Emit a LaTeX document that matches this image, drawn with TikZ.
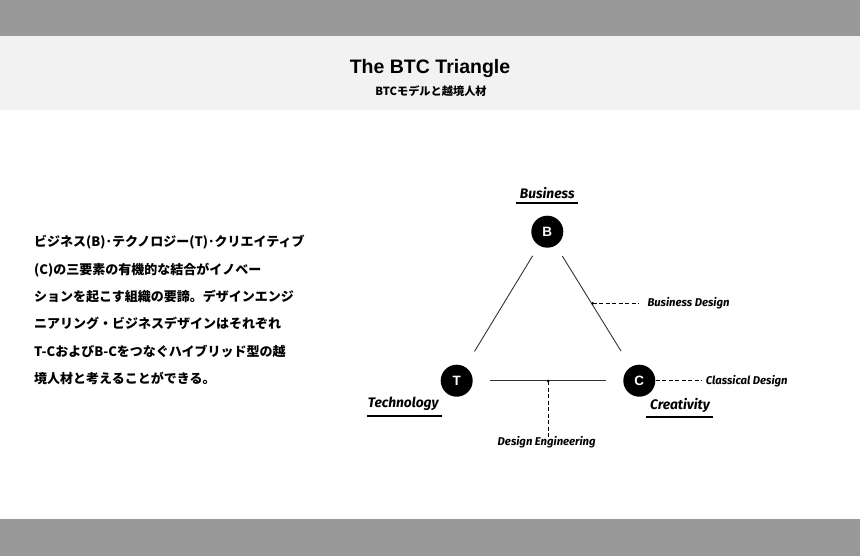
\documentclass[tikz,border=0pt]{standalone}
\usepackage{fontspec}
\setmainfont{Liberation Sans}
\newfontfamily\jp{Noto Sans CJK JP}
\newfontfamily\lab{Fira Sans}
\usetikzlibrary{calc}
\definecolor{bargray}{HTML}{999999}
\definecolor{bandgray}{HTML}{F2F2F2}
\definecolor{edgegray}{HTML}{333333}
\tikzset{
  vertex/.style={circle,fill=black,minimum size=32pt,inner sep=0pt,text=white,font=\bfseries\fontsize{13.5}{13.5}\selectfont},
  biglabel/.style={inner sep=0pt,font=\lab\bfseries\itshape\fontsize{13.8}{13.8}\selectfont},
  smalllabel/.style={inner sep=0pt,font=\lab\bfseries\itshape\fontsize{11.3}{11.3}\selectfont},
  uline/.style={line width=2pt,black},
  edge/.style={line width=0.9pt,edgegray},
  leader/.style={line width=0.9pt,black,dash pattern=on 4pt off 2.5pt},
  body/.style={inner sep=0pt,anchor=base west,font=\jp\bfseries\fontsize{13}{13}\selectfont},
  pin dot/.style={circle,fill=black,inner sep=0pt,minimum size=3pt}
}
\begin{document}
\begin{tikzpicture}[x=1pt,y=-1pt]
\useasboundingbox (0,0) rectangle (860,556);
\fill[bargray] (0,0) rectangle (860,36);
\fill[bandgray] (0,36) rectangle (860,110);
\fill[bargray] (0,519) rectangle (860,556);

% title
\node[inner sep=0pt,anchor=base,font=\bfseries\fontsize{19.5}{19.5}\selectfont] (title) at (430,73.3) {The BTC Triangle};
\node[inner sep=0pt,anchor=base,font=\jp\bfseries\fontsize{11.2}{11.2}\selectfont] (subtitle) at (431,95.8) {BTCモデルと越境人材};

% body text
\node[body] (l1) at (34,246.7) {ビジネス(B)･テクノロジー(T)･クリエイティブ};
\node[body] (l2) at (34,274.1) {(C)の三要素の有機的な結合がイノベー};
\node[body] (l3) at (34,301.5) {ションを起こす組織の要諦。デザインエンジ};
\node[body] (l4) at (34,328.9) {ニアリング・ビジネスデザインはそれぞれ};
\node[body] (l5) at (34,356.3) {T-CおよびB-Cをつなぐハイブリッド型の越};
\node[body] (l6) at (34,383.7) {境人材と考えることができる。};

% vertices
\node[vertex] (B) at (547.3,231.7) {B};
\node[vertex] (T) at (456.7,380.7) {T};
\node[vertex] (C) at (639.3,380.7) {C};

% edges
\draw[edge,shorten <=12pt,shorten >=18pt] (B) -- (T);
\draw[edge,shorten <=12.5pt,shorten >=18.5pt] (B) -- (C);
\draw[edge,shorten <=16.6pt,shorten >=17.6pt] (T) -- (C);

% vertex labels
\node[biglabel] (Bl) at (547.3,193.3) {Business};
\node[biglabel] (Tl) at (403.3,404.3) {Technology};
\node[biglabel] (Cl) at (680,405) {Creativity};
\draw[uline] ($(Bl.center)+(-31,10)$) -- ($(Bl.center)+(31,10)$);
\draw[uline] ($(Tl.center)+(-36,11.7)$) -- ($(Tl.center)+(38.4,11.7)$);
\draw[uline] ($(Cl.center)+(-34,11.7)$) -- ($(Cl.center)+(33.3,11.7)$);

% hybrid labels
\node[pin dot] (bd) at (592.7,303.3) {};
\node[smalllabel,anchor=west] (bdl) at (647.3,303.3) {Business Design};
\draw[leader] (bd.center) -- ([xshift=-8pt]bdl.west);

\node[smalllabel,anchor=west] (cdl) at (705.7,380.7) {Classical Design};
\draw[leader] (C.east) -- ([xshift=-4pt]cdl.west);

\node[pin dot] (de) at (548,381) {};
\node[smalllabel] (del) at (546.7,441.7) {Design Engineering};
\draw[leader] (de.center) -- ([yshift=-4pt]del.north -| de);
\end{tikzpicture}
\end{document}
